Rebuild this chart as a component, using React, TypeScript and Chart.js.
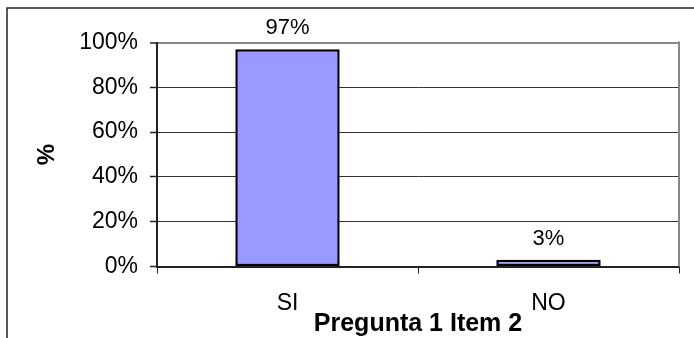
import React, { useEffect, useRef } from "react";
import { Chart, registerables } from "chart.js";

Chart.register(...registerables);

const categories: string[] = ["SI", "NO"];
const percentValues: number[] = [97, 3];
const yTickValues: number[] = [0, 20, 40, 60, 80, 100];
const xTitle = "Pregunta 1 Item 2";
const yTitle = "%";

const FONT = "'Liberation Sans', Arial, Helvetica, sans-serif";

// Frame, axis titles and value labels drawn on top of the bar chart.
const decorations = {
  id: "decorations",
  afterDraw(chart: Chart) {
    const { ctx, chartArea } = chart;
    ctx.save();

    // outer frame (left and top edges)
    ctx.strokeStyle = "#222";
    ctx.lineWidth = 1.5;
    ctx.beginPath();
    ctx.moveTo(7, 338);
    ctx.lineTo(7, 8);
    ctx.lineTo(694, 8);
    ctx.stroke();

    // plot area right edge
    ctx.strokeStyle = "#888";
    ctx.lineWidth = 2;
    ctx.beginPath();
    ctx.moveTo(chartArea.right, chartArea.top - 1);
    ctx.lineTo(chartArea.right, chartArea.bottom);
    ctx.stroke();

    // value labels above bars
    ctx.fillStyle = "#000";
    ctx.font = `22px ${FONT}`;
    ctx.textAlign = "center";
    ctx.textBaseline = "alphabetic";
    const meta = chart.getDatasetMeta(0);
    meta.data.forEach((bar: any, i: number) => {
      ctx.fillText(`${percentValues[i]}%`, bar.x, bar.y - 15);
    });

    // x axis title
    ctx.font = `bold 25px ${FONT}`;
    ctx.fillText(xTitle, (chartArea.left + chartArea.right) / 2, 331);

    // y axis title
    ctx.translate(47, (chartArea.top + chartArea.bottom) / 2);
    ctx.rotate(-Math.PI / 2);
    ctx.textBaseline = "middle";
    ctx.font = `bold 24px ${FONT}`;
    ctx.fillText(yTitle, 0, 0);

    ctx.restore();
  },
};

export default function App() {
  const canvasRef = useRef<HTMLCanvasElement | null>(null);

  useEffect(() => {
    const canvas = canvasRef.current;
    if (!canvas) return;
    const chart = new Chart(canvas, {
      type: "bar",
      data: {
        labels: categories,
        datasets: [
          {
            data: percentValues,
            backgroundColor: "#9999FF",
            borderColor: "#000",
            borderWidth: 2.5,
            borderSkipped: false,
            barPercentage: 0.4,
            categoryPercentage: 1.0,
          },
        ],
      },
      options: {
        responsive: false,
        animation: false,
        devicePixelRatio: 1,
        layout: { padding: { left: 0, top: 42.5, right: 15, bottom: 0 } },
        plugins: {
          legend: { display: false },
          tooltip: { enabled: false },
          title: { display: false },
        },
        scales: {
          x: {
            type: "category",
            afterFit(scale: any) {
              scale.height = 338 - 266.5;
            },
            grid: {
              display: true,
              drawOnChartArea: false,
              drawTicks: true,
              tickLength: 7,
              tickColor: "#222",
              offset: true,
            },
            border: { display: true, color: "#222", width: 2 },
            ticks: {
              color: "#000",
              font: { family: FONT, size: 23 },
              padding: 16,
              maxRotation: 0,
            },
          },
          y: {
            min: 0,
            max: 100,
            afterFit(scale: any) {
              scale.width = 157;
            },
            afterBuildTicks(scale: any) {
              scale.ticks = yTickValues.map((v) => ({ value: v }));
            },
            grid: {
              drawTicks: true,
              tickLength: 7,
              color: (c: any) => (c.tick && c.tick.value === 100 ? "#888" : "#333"),
              lineWidth: (c: any) => (c.tick && c.tick.value === 100 ? 2 : 1),
              tickColor: "#222",
              tickWidth: 1.5,
            },
            border: { display: true, color: "#222", width: 2 },
            ticks: {
              color: "#000",
              font: { family: FONT, size: 23 },
              padding: 12,
              callback: (v: any) => `${v}%`,
            },
          },
        },
      },
      plugins: [decorations],
    });
    return () => chart.destroy();
  }, []);

  return (
    <div
      style={{
        position: "fixed",
        left: 0,
        top: 0,
        width: 694,
        height: 338,
        background: "#fff",
      }}
    >
      <canvas ref={canvasRef} width={694} height={338} style={{ display: "block" }} />
    </div>
  );
}
